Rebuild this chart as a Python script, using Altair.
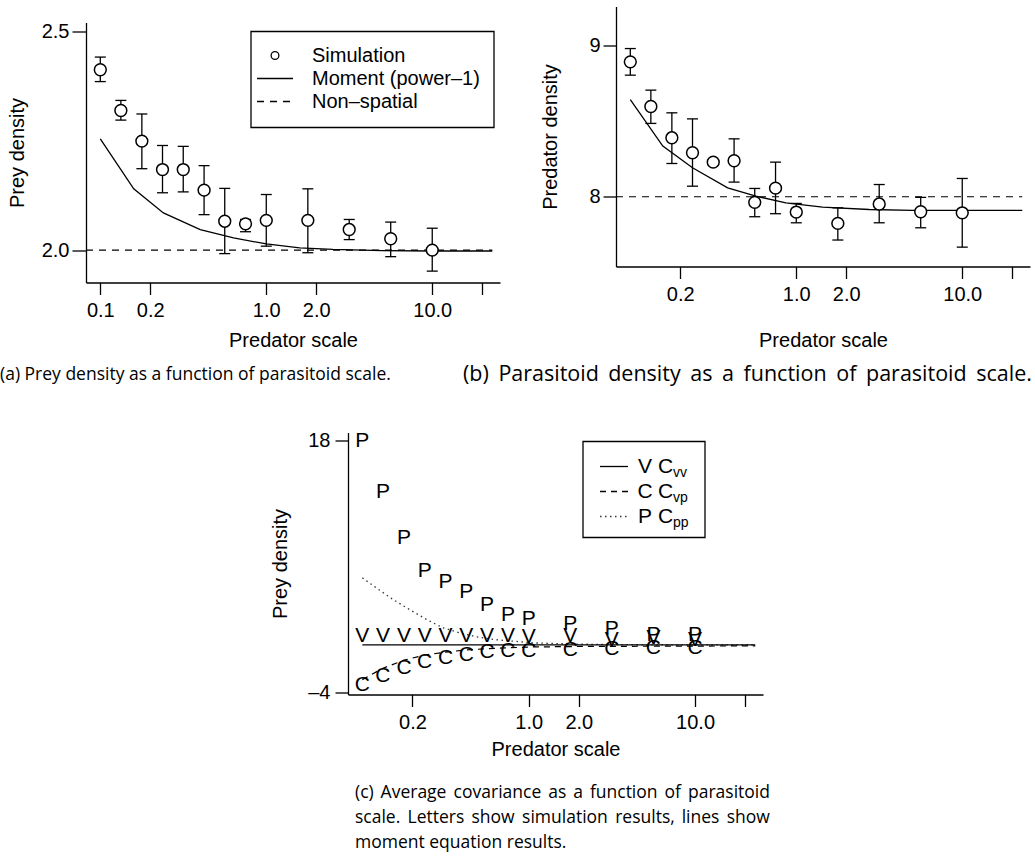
import altair as alt
import pandas as pd

AXIS_FONT = "Liberation Sans"
CAPTION_FONT = "Open Sans"

# Predator (parasitoid) dispersal scales used in the simulations
scale_x = [0.1, 0.133, 0.178, 0.237, 0.316, 0.422, 0.562, 0.75, 1.0, 1.78, 3.16, 5.62, 10.0]

# (a) prey density: simulation means with error-bar limits
prey_mean = [2.412, 2.319, 2.249, 2.184, 2.184, 2.137, 2.066, 2.060, 2.068, 2.068, 2.047, 2.026, 2.000]
prey_low = [2.385, 2.297, 2.186, 2.131, 2.133, 2.081, 1.992, 2.042, 2.009, 1.994, 2.024, 1.985, 1.952]
prey_high = [2.441, 2.342, 2.311, 2.239, 2.237, 2.193, 2.141, 2.070, 2.127, 2.140, 2.070, 2.064, 2.050]

# (a) moment-equation (power-1) curve
prey_moment_x = [0.1, 0.159, 0.24, 0.4, 0.635, 1.0, 1.59, 2.52, 5.0, 10.0, 23.0]
prey_moment_y = [2.254, 2.140, 2.085, 2.047, 2.028, 2.014, 2.005, 2.0015, 1.999, 1.998, 1.998]

# (b) predator density: simulation means with error-bar limits
pred_mean = [8.892, 8.597, 8.390, 8.291, 8.229, 8.238, 7.963, 8.057, 7.899, 7.824, 7.952, 7.901, 7.894]
pred_low = [8.804, 8.485, 8.220, 8.070, 8.212, 8.097, 7.868, 7.888, 7.828, 7.714, 7.828, 7.795, 7.667]
pred_high = [8.980, 8.705, 8.555, 8.515, 8.246, 8.383, 8.055, 8.229, 7.956, 7.927, 8.081, 7.996, 8.121]

# (b) moment-equation curve
pred_moment_x = [0.1, 0.157, 0.237, 0.386, 0.571, 0.866, 1.44, 2.75, 5.0, 10.0, 23.0]
pred_moment_y = [8.643, 8.335, 8.192, 8.059, 8.004, 7.960, 7.932, 7.916, 7.910, 7.910, 7.910]

# non-spatial equilibria
nonspatial_x = [0.082, 23.0]
prey_nonspatial = [2.0, 2.0]
pred_nonspatial = [8.0, 8.0]

# (c) average covariances from simulation (letters)
cov_vv_sim = [0.9, 0.9, 0.9, 0.9, 0.9, 0.9, 0.9, 0.9, 0.85, 0.95, 0.6, 0.7, 0.6]
cov_vp_sim = [-3.33, -2.6, -1.87, -1.38, -1.0, -0.71, -0.5, -0.41, -0.41, -0.27, -0.2, -0.12, -0.12]
cov_pp_sim = [17.95, 13.5, 9.44, 6.58, 5.65, 4.75, 3.61, 2.79, 2.36, 2.0, 1.54, 1.04, 0.96]

# (c) covariances from the moment equations (lines)
cvv_x = [0.1, 23.0]
cvv_y = [0.14, 0.14]
cvp_x = [0.1, 0.133, 0.178, 0.237, 0.316, 0.422, 0.562, 0.75, 1.0, 2.0, 23.0]
cvp_y = [-2.9, -1.9, -1.2, -0.75, -0.5, -0.3, -0.2, -0.12, -0.05, 0.0, 0.05]
cpp_x = [0.1, 0.121, 0.153, 0.192, 0.243, 0.305, 0.385, 0.485, 0.611, 0.805, 1.07, 2.0, 5.0, 23.0]
cpp_y = [6.0, 5.13, 4.1, 3.23, 2.36, 1.63, 1.19, 0.84, 0.61, 0.46, 0.31, 0.2, 0.14, 0.14]

# figure captions
caption_a = "(a) Prey density as a function of parasitoid scale."
caption_b = "(b) Parasitoid density as a function of parasitoid scale."
caption_c = ["(c) Average covariance as a function of parasitoid",
             "scale. Letters show simulation results, lines show",
             "moment equation results."]

X_DOMAIN = [0.082, 25.6]
X_TICKS_A = [0.1, 0.2, 1, 2, 10, 20]
X_TICKS_BC = [0.2, 1, 2, 10, 20]
X_LABELS = "datum.value > 15 ? '' : format(datum.value, '.1f')"

one_row = pd.DataFrame({"k": [0]})

# approximate advance widths (em) of the caption font, used to justify lines
CAP_W = {" ": 0.26, "(": 0.295, ")": 0.295, ".": 0.266, ",": 0.244, "A": 0.633, "L": 0.531,
         "P": 0.588, "a": 0.556, "b": 0.613, "c": 0.476, "d": 0.613, "e": 0.561, "f": 0.339,
         "g": 0.548, "h": 0.614, "i": 0.253, "l": 0.253, "m": 0.93, "n": 0.614, "o": 0.604,
         "p": 0.613, "q": 0.613, "r": 0.408, "s": 0.477, "t": 0.353, "u": 0.614, "v": 0.504,
         "w": 0.78, "y": 0.504}


def x_axis(values, title_pad):
    return alt.Axis(values=values, labelExpr=X_LABELS, title="Predator scale",
                    tickSize=12, labelPadding=6, titlePadding=title_pad,
                    labelOverlap=False, labelFlush=False, grid=False)


def x_enc(axis, rng=None):
    if rng is None:
        sc = alt.Scale(type="log", domain=X_DOMAIN, nice=False)
    else:
        sc = alt.Scale(type="log", domain=X_DOMAIN, nice=False, range=rng)
    return alt.X("x:Q", scale=sc, axis=axis)


def sim_layers(df, xe, ye_fn):
    bars = alt.Chart(df).mark_rule(color="black", strokeWidth=1.3).encode(
        x=xe, y=ye_fn("lo"), y2="hi:Q")
    cap_lo = alt.Chart(df).mark_tick(orient="horizontal", size=11, thickness=1.3,
                                     color="black", opacity=1).encode(x=xe, y=ye_fn("lo"))
    cap_hi = alt.Chart(df).mark_tick(orient="horizontal", size=11, thickness=1.3,
                                     color="black", opacity=1).encode(x=xe, y=ye_fn("hi"))
    pts = alt.Chart(df).mark_point(shape="circle", size=140, filled=True, fill="white",
                                   stroke="black", strokeWidth=1.5, opacity=1).encode(
        x=xe, y=ye_fn("y"))
    return [bars, cap_lo, cap_hi, pts]


def caption(text, x, y, size=17.5):
    return alt.Chart(one_row).mark_text(text=text, align="left", baseline="middle",
                                        font=CAPTION_FONT, fontSize=size, color="black").encode(
        x=alt.value(x), y=alt.value(y))


def justified(text, x0, x1, y, size=17.5):
    """Spread the words of one caption line evenly between x0 and x1."""
    words = text.split(" ")
    widths = [sum(CAP_W.get(ch, 0.55) for ch in w) * size for w in words]
    gap = (x1 - x0 - sum(widths)) / (len(words) - 1)
    out, x = [], x0
    for w, wd in zip(words, widths):
        out.append(caption(w, round(x, 1), y, size))
        x += wd + gap
    return out


def label(text, x, y, size=20, align="left", dy=0):
    return alt.Chart(one_row).mark_text(text=text, align=align, baseline="middle",
                                        font=AXIS_FONT, fontSize=size, color="black", dy=dy).encode(
        x=alt.value(x), y=alt.value(y))


def sample(x1, x2, y, dash=None, color="black"):
    kw = dict(color=color, strokeWidth=1.3)
    if dash is not None:
        kw["strokeDash"] = dash
    return alt.Chart(one_row).mark_rule(**kw).encode(
        x=alt.value(x1), x2=alt.value(x2), y=alt.value(y))


def box(x1, x2, y1, y2):
    return alt.Chart(one_row).mark_rect(fill="white", stroke="black", strokeWidth=1.3).encode(
        x=alt.value(x1), x2=alt.value(x2), y=alt.value(y1), y2=alt.value(y2))


# ---------------- (a) prey density ----------------
ax_a = x_axis(X_TICKS_A, 10)
xe_a = x_enc(ax_a)
ya_axis = alt.Axis(values=[2.0, 2.5], format=".1f", title="Prey density", tickSize=14,
                   labelPadding=3, titlePadding=14, grid=False)


def ye_a(field):
    return alt.Y(f"{field}:Q",
                 scale=alt.Scale(domain=[1.926, 2.52], range=[276, 16], nice=False, zero=False),
                 axis=ya_axis)


sim_a = pd.DataFrame({"x": scale_x, "y": prey_mean, "lo": prey_low, "hi": prey_high})
mom_a = pd.DataFrame({"x": prey_moment_x, "y": prey_moment_y})
non_a = pd.DataFrame({"x": nonspatial_x, "y": prey_nonspatial})

layers_a = [
    alt.Chart(non_a).mark_line(color="black", strokeWidth=1.2, strokeDash=[7, 6]).encode(
        x=xe_a, y=ye_a("y")),
    alt.Chart(mom_a).mark_line(color="black", strokeWidth=1.3).encode(x=xe_a, y=ye_a("y")),
] + sim_layers(sim_a, xe_a, ye_a) + [
    box(165, 408, 25, 121),
    alt.Chart(one_row).mark_point(shape="circle", size=60, filled=True, fill="white",
                                  stroke="black", strokeWidth=1.3, opacity=1).encode(
        x=alt.value(189), y=alt.value(49)),
    sample(171, 207, 72),
    sample(171, 207, 95, dash=[7, 6]),
    label("Simulation", 226, 49),
    label("Moment (power\u20131)", 226, 72),
    label("Non\u2013spatial", 226, 95),
    caption(caption_a, -86, 368),
]
panel_a = alt.layer(*layers_a).properties(width=414, height=276)

# ---------------- (b) predator density ----------------
ax_b = x_axis(X_TICKS_BC, 26)
xe_b = x_enc(ax_b)
yb_axis = alt.Axis(values=[8, 9], format="d", title="Predator density", tickSize=13,
                   labelPadding=3, titlePadding=28, grid=False)


def ye_b(field):
    return alt.Y(f"{field}:Q", scale=alt.Scale(domain=[7.539, 9.258], nice=False, zero=False),
                 axis=yb_axis)


sim_b = pd.DataFrame({"x": scale_x, "y": pred_mean, "lo": pred_low, "hi": pred_high})
mom_b = pd.DataFrame({"x": pred_moment_x, "y": pred_moment_y})
non_b = pd.DataFrame({"x": nonspatial_x, "y": pred_nonspatial})

layers_b = [
    alt.Chart(non_b).mark_line(color="black", strokeWidth=1.2, strokeDash=[7, 6]).encode(
        x=xe_b, y=ye_b("y")),
    alt.Chart(mom_b).mark_line(color="black", strokeWidth=1.3).encode(x=xe_b, y=ye_b("y")),
] + sim_layers(sim_b, xe_b, ye_b) + justified(caption_b, -153, 416, 368, size=21.5)
panel_b = alt.layer(*layers_b).properties(width=414, height=260)

# ---------------- (c) covariances ----------------
# the panel sits in the first column; its x range is shifted right to centre it
ax_c = x_axis(X_TICKS_BC, 7)
xe_c = x_enc(ax_c, rng=[262, 677])
yc_axis = alt.Axis(values=[-4, 18], title="Prey density", tickSize=13, labelPadding=5,
                   titlePadding=17, grid=False, offset=-262,
                   labelExpr="datum.value < 0 ? '\u2013' + abs(datum.value) : datum.label")


def ye_c(field):
    return alt.Y(f"{field}:Q", scale=alt.Scale(domain=[-4.2, 18.7], nice=False, zero=False),
                 axis=yc_axis)


letters = pd.DataFrame({"x": scale_x, "vv": cov_vv_sim, "vp": cov_vp_sim, "pp": cov_pp_sim})
line_vv = pd.DataFrame({"x": cvv_x, "y": cvv_y})
line_vp = pd.DataFrame({"x": cvp_x, "y": cvp_y})
line_pp = pd.DataFrame({"x": cpp_x, "y": cpp_y})


def letter_layer(field, ch):
    return alt.Chart(letters).mark_text(text=ch, font=AXIS_FONT, fontSize=21, color="black",
                                        align="center", baseline="middle").encode(
        x=xe_c, y=ye_c(field))


layers_c = [
    alt.Chart(line_pp).mark_line(color="#333333", strokeWidth=1.3, strokeDash=[1.5, 3.5]).encode(
        x=xe_c, y=ye_c("y")),
    alt.Chart(line_vp).mark_line(color="black", strokeWidth=1.2, strokeDash=[6, 5]).encode(
        x=xe_c, y=ye_c("y")),
    alt.Chart(line_vv).mark_line(color="black", strokeWidth=1.4).encode(x=xe_c, y=ye_c("y")),
    letter_layer("pp", "P"),
    letter_layer("vv", "V"),
    letter_layer("vp", "C"),
    box(497, 619, 9, 105),
    sample(514, 542, 34),
    sample(514, 542, 59, dash=[6, 5]),
    sample(514, 542, 84, dash=[1.5, 3.5], color="#333333"),
    label("V", 559, 34, size=21, align="center"),
    label("C", 559, 59, size=21, align="center"),
    label("P", 559, 84, size=21, align="center"),
    label("C", 572, 34, size=21),
    label("C", 572, 59, size=21),
    label("C", 572, 84, size=21),
    label("vv", 587, 34, size=14, dy=6),
    label("vp", 587, 59, size=14, dy=6),
    label("pp", 587, 84, size=14, dy=6),
] + justified(caption_c[0], 269, 684, 360) + justified(caption_c[1], 269, 684, 385) + [
    caption(caption_c[2], 269, 410),
]
panel_c = alt.layer(*layers_c).properties(width=414, height=262)

chart = alt.concat(
    panel_a, panel_b, panel_c,
    columns=2,
    spacing={"row": 150, "column": 116},
    bounds="flush",
).properties(
    padding={"left": 0, "top": 6.5, "right": 0, "bottom": 0},
    background="white",
).configure_axis(
    domainColor="black", tickColor="black", labelColor="black", titleColor="black",
    labelFont=AXIS_FONT, titleFont=AXIS_FONT, labelFontSize=20, titleFontSize=20,
    titleFontWeight="normal", domainWidth=1.3, tickWidth=1.3,
).configure_view(stroke=None)

chart.save("out.html", embed_options={"renderer": "svg", "actions": False})
